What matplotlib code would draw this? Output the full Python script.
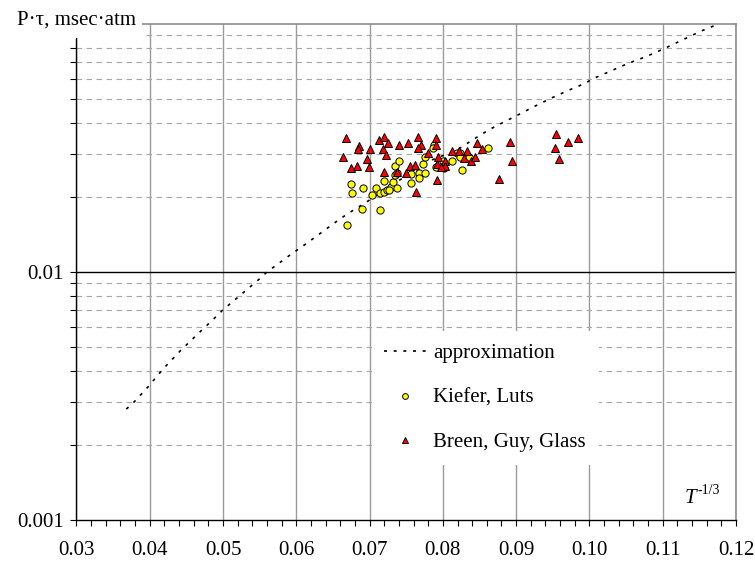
import matplotlib
matplotlib.use("Agg")
import matplotlib.pyplot as plt
from matplotlib.patches import Rectangle
from matplotlib.ticker import (FixedFormatter, FixedLocator, LogLocator,
                               MultipleLocator, NullFormatter)

plt.rcParams["font.family"] = ["Liberation Serif", "DejaVu Serif"]

# approximation curve, P*tau vs T^(-1/3)
approx_x = [0.0368, 0.0379, 0.0398, 0.0418, 0.0442, 0.0464, 0.0488, 0.0499,
            0.0525, 0.0549, 0.0560, 0.0593, 0.0615, 0.0638, 0.0660, 0.0681,
            0.0693, 0.0735, 0.0785, 0.0819, 0.0844, 0.0864, 0.0888, 0.0900,
            0.0923, 0.0947, 0.0970, 0.0994, 0.1005, 0.1029, 0.1053, 0.1077,
            0.1101, 0.1153, 0.1176]
approx_y = [0.00280, 0.00300, 0.00345, 0.00406, 0.00482, 0.00557, 0.00650,
            0.00700, 0.00813, 0.00934, 0.01000, 0.01180, 0.01310, 0.01470,
            0.01640, 0.01800, 0.01890, 0.02290, 0.02830, 0.03100, 0.03460,
            0.03760, 0.04090, 0.04260, 0.04620, 0.05010, 0.05380, 0.05760,
            0.06020, 0.06460, 0.06940, 0.07380, 0.07930, 0.09380, 0.10000]

# Kiefer, Luts
kiefer_x = [0.0674, 0.0676, 0.0691, 0.0690, 0.0669, 0.0703, 0.0709, 0.0714,
            0.0719, 0.0724, 0.0729, 0.0714, 0.0720, 0.0732, 0.0734, 0.0738,
            0.0735, 0.0740, 0.0737, 0.0756, 0.0756, 0.0768, 0.0775, 0.0768,
            0.0773, 0.0775, 0.0788, 0.0787, 0.0790, 0.0800, 0.0801, 0.0812,
            0.0819, 0.0824, 0.0826, 0.0835, 0.0862, 0.0727, 0.0824]
kiefer_y = [0.0226, 0.0209, 0.0218, 0.0179, 0.0155, 0.0205, 0.0218, 0.0209,
            0.0211, 0.0215, 0.0221, 0.0177, 0.0233, 0.0231, 0.0245, 0.0218,
            0.0268, 0.0281, 0.0250, 0.0228, 0.0248, 0.0251, 0.0250, 0.0239,
            0.0273, 0.0290, 0.0325, 0.0315, 0.0266, 0.0279, 0.0262, 0.0281,
            0.0303, 0.0301, 0.0258, 0.0292, 0.0317, 0.0214, 0.0292]

# Breen, Guy, Glass
breen_x = [0.0668, 0.0686, 0.0684, 0.0701, 0.0713, 0.0720, 0.0725, 0.0718,
           0.0723, 0.0740, 0.0753, 0.0766, 0.0770, 0.0766, 0.0780, 0.0791,
           0.0791, 0.0793, 0.0664, 0.0674, 0.0683, 0.0696, 0.0699, 0.0720,
           0.0737, 0.0750, 0.0755, 0.0762, 0.0792, 0.0803, 0.0803, 0.0792,
           0.0763, 0.0812, 0.0822, 0.0833, 0.0829, 0.0838, 0.0844, 0.0847,
           0.0853, 0.0891, 0.0895, 0.0876, 0.0954, 0.0953, 0.0971, 0.0985,
           0.0958, 0.0798]
breen_y = [0.0346, 0.0322, 0.0312, 0.0312, 0.0341, 0.0351, 0.0330, 0.0312,
           0.0296, 0.0326, 0.0330, 0.0349, 0.0324, 0.0315, 0.0303, 0.0346,
           0.0325, 0.0290, 0.0290, 0.0263, 0.0268, 0.0285, 0.0264, 0.0254,
           0.0254, 0.0251, 0.0268, 0.0270, 0.0273, 0.0280, 0.0268, 0.0235,
           0.0211, 0.0308, 0.0308, 0.0308, 0.0287, 0.0279, 0.0290, 0.0332,
           0.0312, 0.0335, 0.0279, 0.0237, 0.0360, 0.0315, 0.0335, 0.0346,
           0.0286, 0.0266]

x_ticks = [0.03, 0.04, 0.05, 0.06, 0.07, 0.08, 0.09, 0.10, 0.11, 0.12]
x_tick_labels = ["0.03", "0.04", "0.05", "0.06", "0.07", "0.08", "0.09",
                 "0.10", "0.11", "0.12"]

fig = plt.figure(figsize=(7.55, 5.67), dpi=100)
ax = fig.add_axes([0.1013, 0.0829, 0.8735, 0.8748])
ax.set_yscale("log")
ax.set_xlim(0.03, 0.12)
ax.set_ylim(0.001, 0.1)
ax.set_axisbelow(True)

# ticks
ax.xaxis.set_major_locator(FixedLocator(x_ticks))
ax.xaxis.set_major_formatter(FixedFormatter(x_tick_labels))
ax.xaxis.set_minor_locator(MultipleLocator(0.002))
ax.yaxis.set_major_locator(FixedLocator([0.001, 0.01, 0.1]))
ax.yaxis.set_major_formatter(FixedFormatter(["0.001", "0.01", ""]))
ax.yaxis.set_minor_locator(LogLocator(base=10, subs=range(2, 10)))
ax.yaxis.set_minor_formatter(NullFormatter())
ax.tick_params(axis="both", which="both", direction="out", length=4,
               width=0.8, color="black", labelsize=15)
ax.tick_params(axis="x", which="major", pad=11)
ax.tick_params(axis="y", which="major", pad=5)

# grid
ax.grid(True, axis="x", which="major", color="#9a9a9a", linewidth=1.0)
ax.grid(True, axis="y", which="minor", color="#a6a6a6", linewidth=0.8,
        linestyle=(0, (5, 4)))
ax.axhline(0.01, color="black", linewidth=1.0, zorder=1)

for side in ("left", "bottom"):
    ax.spines[side].set_color("black")
    ax.spines[side].set_linewidth(1.0)
for side in ("top", "right"):
    ax.spines[side].set_color("#8c8c8c")
    ax.spines[side].set_linewidth(1.2)

ax.plot(approx_x, approx_y, color="black", linewidth=1.2,
        linestyle=(0, (1.8, 4.0)), label="approximation", zorder=2)
ax.plot(kiefer_x, kiefer_y, linestyle="none", marker="o", markersize=5.2,
        markerfacecolor="#ffff00", markeredgecolor="black",
        markeredgewidth=0.7, label="Kiefer, Luts", zorder=3)
ax.plot(breen_x, breen_y, linestyle="none", marker="^", markersize=5.8,
        markerfacecolor="#ff0000", markeredgecolor="black",
        markeredgewidth=0.7, label="Breen, Guy, Glass", zorder=4)

ax.legend(loc="lower left", bbox_to_anchor=(0.448, 0.111), frameon=True,
          fancybox=False, edgecolor="none", facecolor="white", framealpha=1,
          fontsize=15, labelspacing=1.2, handlelength=2.0,
          handletextpad=0.35, borderpad=0.6, borderaxespad=0,
          markerscale=0.8)

# x-axis caption inside the plot: italic T with a small "-1/3" exponent
ax.text(0.940, 0.034, "T", transform=ax.transAxes, ha="right",
        va="baseline", fontsize=15, fontstyle="italic")
ax.annotate("-1/3", xy=(0.940, 0.034), xycoords="axes fraction",
            xytext=(0.5, 6.5), textcoords="offset points", ha="left",
            va="baseline", fontsize=10)

# y-axis caption sits on a white patch over the top-left corner
fig.add_artist(Rectangle((0, 1 - 38 / 567), 142 / 755, 38 / 567,
                         transform=fig.transFigure, facecolor="white",
                         edgecolor="none", zorder=5))
fig.text(17 / 755, 1 - 25 / 567, "P·τ, msec·atm", ha="left", va="baseline",
         fontsize=15, zorder=6)

fig.savefig("out.png", dpi=100)
